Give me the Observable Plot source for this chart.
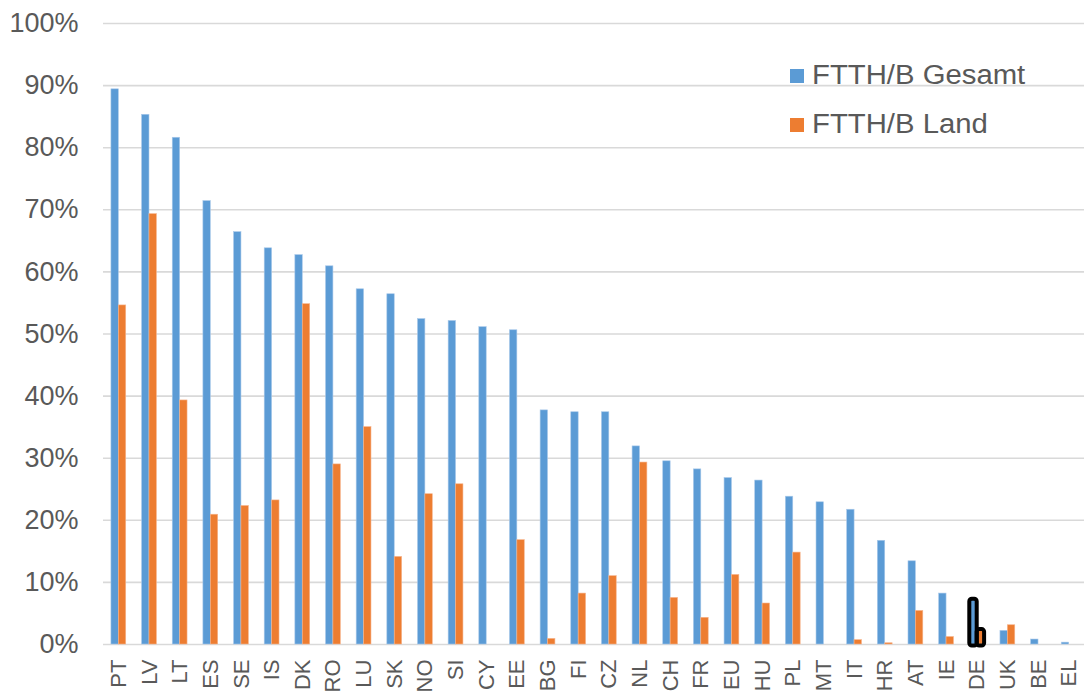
<!DOCTYPE html>
<html>
<head>
<meta charset="utf-8">
<script src="https://cdn.jsdelivr.net/npm/d3@7"></script>
<script src="https://cdn.jsdelivr.net/npm/@observablehq/plot@0.6"></script>
<style>
  html, body { margin: 0; padding: 0; background: #fff; }
  #wrap { position: relative; width: 1084px; height: 692px; font-family: "Liberation Sans", Arial, sans-serif; }
  .legend { position: absolute; left: 790px; font-size: 27px; color: #595959; display: flex; align-items: center; line-height: 1; }
  .legend .sw { width: 14px; height: 14px; margin-right: 8px; flex: none; }
  .legend .lbl { display: inline-block; transform: scaleX(1.085); transform-origin: left center; white-space: nowrap; }
</style>
</head>
<body>
<div id="wrap"></div>
<script>
const countries = ["PT","LV","LT","ES","SE","IS","DK","RO","LU","SK","NO","SI","CY","EE","BG","FI","CZ","NL","CH","FR","EU","HU","PL","MT","IT","HR","AT","IE","DE","UK","BE","EL"];
const gesamt = [89.4,85.3,81.6,71.4,66.4,63.8,62.7,60.9,57.2,56.4,52.4,52.1,51.1,50.6,37.7,37.4,37.4,31.9,29.5,28.2,26.8,26.4,23.8,22.9,21.7,16.7,13.4,8.2,7.3,2.2,0.8,0.3];
const land = [54.6,69.3,39.3,20.9,22.3,23.2,54.8,29.0,35.0,14.1,24.2,25.8,0,16.8,0.9,8.2,11.0,29.3,7.5,4.3,11.2,6.6,14.8,0,0.7,0.2,5.4,1.2,2.4,3.1,0,0];
const yTicks = [0,0.1,0.2,0.3,0.4,0.5,0.6,0.7,0.8,0.9,1.0];
const seriesNames = ["FTTH/B Gesamt", "FTTH/B Land"];
const colors = ["#5b9bd5", "#ed7d31"];
const highlight = "DE";

const rows = countries.map((c, i) => ({country: c, gesamt: gesamt[i] / 100, land: land[i] / 100}));
const hl = rows.filter(d => d.country === highlight);

const step = (1084 - 103) / countries.length;
const half = step / 2;
const barW = 7.4;

const chart = Plot.plot({
  width: 1084,
  height: 692,
  marginLeft: 103,
  marginRight: 0,
  marginTop: 23,
  marginBottom: 48,
  style: {fontFamily: '"Liberation Sans", Arial, sans-serif', color: "#595959", background: "#fff"},
  x: {domain: countries, padding: 0, round: false, label: null},
  y: {domain: [0, 1], label: null},
  marks: [
    Plot.ruleY(yTicks, {stroke: "#d9d9d9", strokeWidth: 1.6}),
    Plot.barY(rows, {x: "country", y: "gesamt", fill: colors[0], stroke: "#a9c9ea", strokeWidth: 0.6, insetLeft: half - barW, insetRight: half}),
    Plot.barY(rows, {x: "country", y: "land", fill: colors[1], stroke: "#f6b48c", strokeWidth: 0.6, insetLeft: half, insetRight: half - barW}),
    Plot.barY(hl, {x: "country", y: "gesamt", fill: "none", stroke: "#000", strokeWidth: 4, rx: 2.5, insetLeft: half - barW, insetRight: half, insetBottom: -1.5}),
    Plot.barY(hl, {x: "country", y: "land", fill: "none", stroke: "#000", strokeWidth: 4, rx: 2.5, insetLeft: half, insetRight: half - barW, insetBottom: -1.5}),
    Plot.axisY({ticks: yTicks, tickFormat: d3.format(".0%"), tickSize: 0, tickPadding: 25, fontSize: 27, fill: "#595959"}),
    Plot.axisX({tickSize: 0, tickPadding: 15, tickRotate: -90, fontSize: 22, fill: "#595959"})
  ]
});
const wrap = document.getElementById("wrap");
wrap.appendChild(chart);

seriesNames.forEach((name, i) => {
  const div = document.createElement("div");
  div.className = "legend";
  div.style.top = (62 + i * 49) + "px";
  div.innerHTML = `<span class="sw" style="background:${colors[i]}"></span><span class="lbl">${name}</span>`;
  wrap.appendChild(div);
});
</script>
</body>
</html>
